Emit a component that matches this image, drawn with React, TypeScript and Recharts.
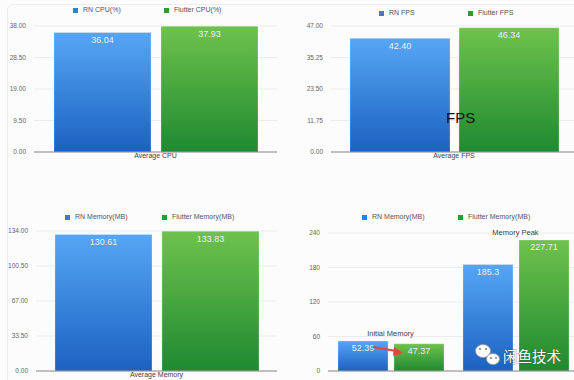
import { BarChart, Bar, XAxis, YAxis, CartesianGrid, Legend, LabelList, ReferenceDot } from "recharts";

const cpuCategories = ["Average CPU"];
const rnCpu = [36.04];
const flutterCpu = [37.93];
const cpuTicks = [0, 9.5, 19, 28.5, 38];
const cpuNames = ["RN CPU(%)", "Flutter CPU(%)"];

const fpsCategories = ["Average FPS"];
const rnFps = [42.4];
const flutterFps = [46.34];
const fpsTicks = [0, 11.75, 23.5, 35.25, 47];
const fpsNames = ["RN FPS", "Flutter FPS"];

const avgMemCategories = ["Average Memory"];
const rnAvgMem = [130.61];
const flutterAvgMem = [133.83];
const avgMemTicks = [0, 33.5, 67, 100.5, 134];
const memNames = ["RN Memory(MB)", "Flutter Memory(MB)"];

const memCategories = ["Initial Memory", "Memory Peak"];
const rnMem = [52.39, 185.3];
const flutterMem = [47.37, 227.71];
const memTicks = [0, 60, 120, 180, 240];

const legendColors = ["#2f7fdc", "#2e9a36"];
const fixed2 = (v: any) => Number(v).toFixed(2);
const plain = (v: any) => String(v);

function LegendRow({ payload, names, xs, y }: any) {
  // legend payload comes back sorted by name, put it back in series order
  const items = [...(payload || [])].sort((a: any, b: any) => names.indexOf(a.value) - names.indexOf(b.value));
  return (
    <div style={{ position: "relative", height: 0 }}>
      {items.map((p: any, i: number) => (
        <div
          key={p.value}
          style={{
            position: "absolute", left: xs[i], top: y - 4, display: "flex", alignItems: "center",
            whiteSpace: "nowrap", fontSize: 7, lineHeight: "8px", color: "#555",
          }}
        >
          <span style={{ display: "inline-block", width: 5, height: 5, background: legendColors[i], marginRight: 5 }} />
          {p.value}
        </div>
      ))}
    </div>
  );
}

function Panel(props: any) {
  const { id, left, top, width, height, margin, yWidth, xHeight, categories, rn, flutter, names,
    ticks, tickFmt, valueFmt, gap, barGap, legendXs, legendY, showCat, peakLabels } = props;
  const data = categories.map((c: string, i: number) => ({
    name: c, rn: rn[i], flutter: flutter[i], peak: Math.max(rn[i], flutter[i]),
  }));
  const valueLabel = { fill: "#f2f6fc", fontSize: 9, stroke: "rgba(0,0,0,0.12)", strokeWidth: 0.5, paintOrder: "stroke" };
  return (
    <div style={{ position: "absolute", left, top }}>
      <BarChart width={width} height={height} data={data} margin={margin} barCategoryGap={gap} barGap={barGap}>
        <defs>
          <linearGradient id={`${id}-rn`} x1="0" y1="0" x2="0" y2="1">
            <stop offset="0%" stopColor="#56a6f5" />
            <stop offset="100%" stopColor="#1b62c0" />
          </linearGradient>
          <linearGradient id={`${id}-fl`} x1="0" y1="0" x2="0" y2="1">
            <stop offset="0%" stopColor="#6ec24c" />
            <stop offset="100%" stopColor="#1e8a30" />
          </linearGradient>
        </defs>
        <CartesianGrid vertical={false} stroke="#ececec" />
        <XAxis
          dataKey="name" height={xHeight} interval={0} tickLine={false} tickSize={0} tickMargin={1}
          axisLine={{ stroke: "#8a8a8a" }} tick={showCat ? { fill: "#444", fontSize: 7 } : false}
        />
        <YAxis
          width={yWidth} domain={[0, ticks[ticks.length - 1]]} ticks={ticks} tickFormatter={tickFmt}
          axisLine={false} tickLine={false} tick={{ fill: "#666", fontSize: 6.5 }}
        />
        <Legend
          verticalAlign="middle" align="center"
          wrapperStyle={{ top: 0, left: 0, width, height: 0 }}
          content={(p: any) => <LegendRow payload={p.payload} names={names} xs={legendXs} y={legendY} />}
        />
        <Bar dataKey="rn" name={names[0]} fill={`url(#${id}-rn)`} stroke="rgba(255,255,255,0.5)" strokeWidth={0.5} isAnimationActive={false}>
          <LabelList dataKey="rn" position="insideTop" offset={4} formatter={valueFmt} {...valueLabel} />
        </Bar>
        <Bar dataKey="flutter" name={names[1]} fill={`url(#${id}-fl)`} stroke="rgba(255,255,255,0.5)" strokeWidth={0.5} isAnimationActive={false}>
          <LabelList dataKey="flutter" position="insideTop" offset={4} formatter={valueFmt} {...valueLabel} />
        </Bar>
        {peakLabels &&
          data.map((d: any) => (
            <ReferenceDot
              key={d.name} x={d.name} y={d.peak} r={0} fill="none" stroke="none"
              label={{ value: d.name, position: "top", offset: 5, fill: "#444", fontSize: 7.5 }}
            />
          ))}
      </BarChart>
    </div>
  );
}

export default function App() {
  return (
    <div
      style={{
        position: "absolute", left: 0, top: 0, width: 574, height: 380, overflow: "hidden",
        background: "#fcfcfc", fontFamily: "'Liberation Sans', Arial, sans-serif",
      }}
    >
      <div style={{ position: "absolute", left: 7, top: 4, width: 700, height: 500, border: "1px solid #ececec", borderRadius: 6 }} />
      <Panel
        id="cpu" left={0} top={0} width={290} height={172}
        margin={{ top: 26, right: 13, left: 0, bottom: 0 }} yWidth={34} xHeight={20}
        categories={cpuCategories} rn={rnCpu} flutter={flutterCpu} names={cpuNames}
        ticks={cpuTicks} tickFmt={fixed2} valueFmt={fixed2} gap={20} barGap={10}
        legendXs={[73, 164]} legendY={10} showCat
      />
      <Panel
        id="fps" left={290} top={0} width={290} height={172}
        margin={{ top: 26, right: 3, left: 0, bottom: 0 }} yWidth={41} xHeight={20}
        categories={fpsCategories} rn={rnFps} flutter={flutterFps} names={fpsNames}
        ticks={fpsTicks} tickFmt={fixed2} valueFmt={fixed2} gap={19} barGap={9}
        legendXs={[89, 178]} legendY={13} showCat
      />
      <Panel
        id="avgmem" left={0} top={195} width={290} height={185}
        margin={{ top: 36, right: 13, left: 0, bottom: 0 }} yWidth={36} xHeight={9}
        categories={avgMemCategories} rn={rnAvgMem} flutter={flutterAvgMem} names={memNames}
        ticks={avgMemTicks} tickFmt={fixed2} valueFmt={fixed2} gap={19} barGap={10}
        legendXs={[65, 162]} legendY={22} showCat
      />
      <Panel
        id="mem" left={290} top={195} width={290} height={185}
        margin={{ top: 38, right: 2, left: 0, bottom: 0 }} yWidth={38} xHeight={9}
        categories={memCategories} rn={rnMem} flutter={flutterMem} names={memNames}
        ticks={memTicks} tickFmt={plain} valueFmt={plain} gap={10} barGap={6}
        legendXs={[72, 168]} legendY={22} peakLabels
      />
      {/* annotations on top of the screenshot */}
      <svg width={574} height={380} style={{ position: "absolute", left: 0, top: 0, pointerEvents: "none" }}>
        <text x={446} y={123} fontSize={15} fill="#111" fontFamily="'Liberation Sans', Arial, sans-serif">FPS</text>
        <line x1={373} y1={347} x2={396} y2={351} stroke="#e5453a" strokeWidth={2} />
        <polygon points="403,353 394,347 393,356" fill="#e5453a" />
        <g stroke="#9a9a9a" strokeWidth={0.8}>
          <ellipse cx={483} cy={351} rx={7.5} ry={6.5} fill="#fff" />
          <ellipse cx={493} cy={359} rx={6.5} ry={5.5} fill="#fff" />
        </g>
        <circle cx={480} cy={349} r={1} fill="#777" />
        <circle cx={486} cy={349} r={1} fill="#777" />
        <circle cx={491} cy={358} r={0.9} fill="#777" />
        <circle cx={496} cy={358} r={0.9} fill="#777" />
        <text
          x={503} y={362} fontSize={14.5} fill="#ffffff" stroke="rgba(70,70,70,0.55)" strokeWidth={0.8}
          style={{ paintOrder: "stroke" }} fontFamily="'Noto Sans CJK SC', sans-serif"
        >
          闲鱼技术
        </text>
      </svg>
    </div>
  );
}
